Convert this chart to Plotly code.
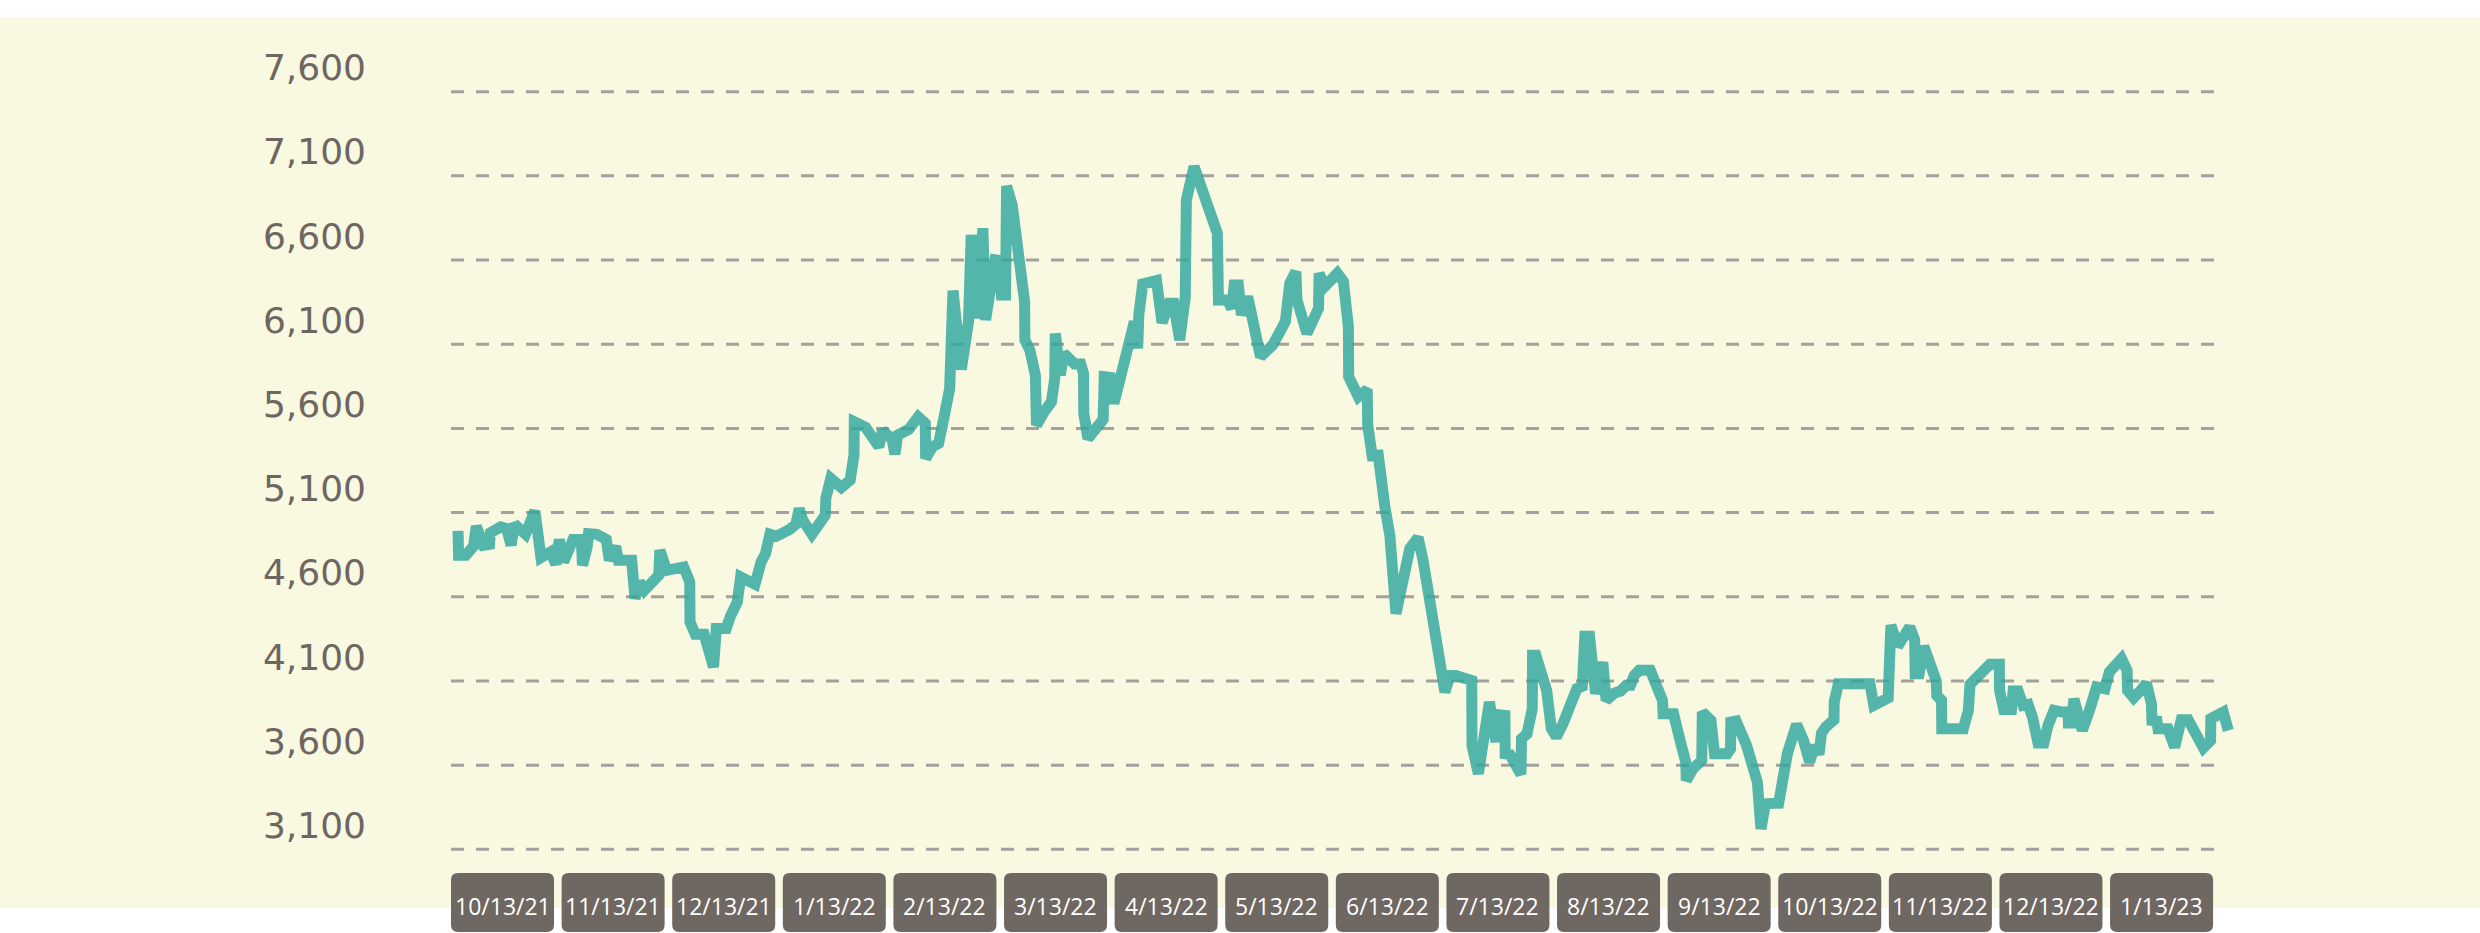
import plotly.graph_objects as go

# ---------------- data ----------------
# t: trading-day index (20 units per month band), price: value
t = [0.0, 0.1, 1.4, 2.8, 3.3, 4.6, 5.7, 5.85, 7.7, 8.8, 9.6, 10.2, 12.2, 13.9, 15.0, 16.7, 17.7, 18.3, 19.1, 20.8,
     22.3, 22.5, 23.35, 23.6, 25.1, 26.8, 27.35, 28.5, 29.0, 31.4, 32.0, 32.8, 33.7, 36.3, 36.5, 37.7, 40.8, 41.9, 41.95, 42.9,
     44.5, 46.2, 46.7, 48.5, 49.2, 50.5, 51.1, 52.9, 53.7, 54.8, 55.6, 56.4, 57.6, 60.0, 61.1, 61.7, 62.35, 64.0, 66.4, 66.5,
     67.4, 69.3, 70.9, 71.6, 71.65, 73.7, 76.1, 76.75, 78.5, 79.0, 79.5, 81.5, 83.2, 84.5, 84.55, 85.8, 86.9, 87.9,
     88.9, 89.5, 91.0, 92.3, 92.8, 93.9, 94.9, 95.4, 96.3, 97.1, 97.9, 98.25, 99.0, 99.2, 100.2, 101.2, 102.1, 102.45, 102.5,
     103.4, 104.4, 104.6, 106.0, 107.3, 107.9, 108.0, 108.9, 109.55, 111.5, 112.6, 113.1, 113.15, 113.9, 116.65, 116.85,
     117.95, 118.6, 120.2, 121.2, 121.8, 122.3, 122.9, 123.1, 123.8, 126.3, 127.3, 128.6, 129.4, 130.5, 131.5, 131.7, 133.1,
     137.3, 137.5, 139.1, 139.9, 140.35, 141.1, 141.65, 142.8, 145.1, 147.3, 149.6, 150.4, 151.5, 151.7, 153.5, 155.6, 155.7,
     156.7, 159.0, 160.1, 161.0, 161.05, 162.8, 164.4, 164.5, 165.3, 166.4,
     167.6, 168.5, 169.6, 170.3, 172.1, 173.6, 174.5,
     176.8, 178.45, 179.4, 180.4, 183.3, 183.35, 184.5, 186.5, 187.7, 187.8, 189.3, 189.35, 190.2, 192.2, 192.3, 193.3,
     194.25, 194.3, 194.9, 196.85, 197.7, 198.6, 199.8, 201.7, 202.3, 203.3, 203.75, 204.6, 205.7, 207.0, 207.6, 209.1,
     210.2, 211.25, 212.0, 212.7, 213.6, 215.6, 216.9, 217.8, 217.9, 219.8, 220.9, 222.0, 222.1, 223.3, 224.9, 225.0,
     226.55, 227.2, 229.5, 230.1, 230.15, 231.1, 233.0, 234.3, 234.95, 235.6, 236.4, 238.8, 239.7, 240.4, 242.05, 243.3,
     244.4, 245.3, 246.1, 246.55, 247.3, 248.8, 248.85, 249.6, 255.3, 256.0, 258.6, 258.65, 259.1, 260.1, 260.7, 262.5,
     263.4, 263.5, 264.2, 265.05, 267.3, 267.4, 268.25, 268.3, 272.2, 273.1, 273.4, 277.0, 278.7, 278.75, 279.5, 280.9,
     281.2, 282.1, 283.0, 283.9, 284.7, 285.7, 286.75, 287.5, 288.6, 290.1, 291.15, 291.2, 291.75, 292.2, 293.1, 293.7,
     295.1, 296.3, 297.8, 298.6, 300.8, 301.8, 301.9, 303.0, 304.4, 305.3, 306.2, 306.3, 307.2, 307.4, 309.2, 310.4,
     311.6, 312.85, 315.6, 316.9, 316.95, 319.2, 320.1]

price = [4991, 4847, 4847, 4900, 5019, 4906, 4912, 4980, 5015, 5005, 4906, 5031, 4972, 5110, 4833, 4866, 4793, 4940, 4807, 4940,
         4940, 4787, 4896, 4975, 4971, 4940, 4817, 4900, 4817, 4817, 4589, 4688, 4639, 4728, 4876, 4757, 4777, 4688, 4450, 4377,
         4377, 4183, 4411, 4411, 4480, 4569, 4718, 4688, 4674, 4807, 4857, 4972, 4960, 5000, 5031, 5124, 5055, 4972, 5085, 5184,
         5303, 5249, 5293, 5441, 5639, 5606, 5491, 5590, 5534, 5447, 5560, 5594, 5669, 5630, 5421, 5491, 5511, 5669,
         5837, 6418, 5950, 6234, 6749, 6254, 6789, 6244, 6398, 6601, 6597, 6392, 6392, 7040, 6927, 6696, 6521, 6353, 6125,
         6065, 5917, 5619, 5699, 5758, 5897, 6164, 5917, 6046, 5982, 5982, 5927, 5689, 5540, 5653, 5907,
         5903, 5748, 5976, 6046, 6204, 6234, 6075, 6273, 6458, 6478, 6228, 6343, 6343, 6125, 6379, 6957, 7155,
         6759, 6363, 6363, 6313, 6452, 6452, 6274, 6382, 6026, 6095, 6234, 6462, 6531, 6363, 6164, 6313, 6521,
         6442, 6521, 6472, 6204, 5907, 5788, 5832, 5619, 5438, 5441,
         5134, 4965, 4500, 4618, 4886, 4952, 4817,
         4361, 4034, 4133, 4133, 4103, 3717, 3549, 3975, 3737, 3901, 3895, 3667, 3663, 3545, 3757, 3786,
         3935, 4252, 4252, 4044, 3816, 3767, 3846, 4024, 4054, 4068, 4365, 4365, 4024, 4212, 3985, 4028,
         4040, 4074, 4074, 4133, 4163, 4163, 4074, 3985, 3905, 3905, 3757, 3618, 3509, 3578, 3628, 3915,
         3866, 3667, 3667, 3697, 3856, 3862, 3717, 3588, 3499, 3221, 3370, 3374, 3612, 3671, 3842, 3747,
         3618, 3717, 3664, 3790, 3826, 3870, 3975, 4084, 4084, 3955, 4000, 4193, 4431, 4331, 4325, 4421,
         4345, 4143, 4143, 4306, 4100, 4014, 3985, 3816, 3816, 3925, 4080, 4199, 4199, 4044, 3931, 3931,
         4040, 4040, 3955, 3961, 3885, 3731, 3731, 3836, 3925, 3915, 3915, 3850, 3850, 3994, 3885, 3806,
         3935, 4064, 4054, 4153, 4232, 4163, 4044, 4000, 4048, 4088, 3965, 3866, 3862, 3816, 3816, 3707,
         3870, 3870, 3703, 3747, 3876, 3915, 3806]

month_labels = ["10/13/21", "11/13/21", "12/13/21", "1/13/22", "2/13/22", "3/13/22", "4/13/22", "5/13/22",
                "6/13/22", "7/13/22", "8/13/22", "9/13/22", "10/13/22", "11/13/22", "12/13/22", "1/13/23"]
y_ticks = [3100, 3600, 4100, 4600, 5100, 5600, 6100, 6600, 7100, 7600]

# ---------------- layout constants ----------------
W, H = 2480, 933
ML, MR, MT, MB = 451, 244, 90, 82
PW, PH = W - ML - MR, H - MT - MB
X_RANGE = [-1.27, 321.5]
Y_RANGE = [3090, 7610]
T_PER_MONTH = 20.0

BEIGE = "#F9F8E1"
BOX = "#6F6761"
TEXT = "#6E6660"
LINE = "rgba(47,167,158,0.82)"
GRID = "#A3A19D"


def px_x(X):
    return (X - ML) / PW


def px_y(Y):
    return (H - MB - Y) / PH


def t_to_paper(tv):
    return (tv - X_RANGE[0]) / (X_RANGE[1] - X_RANGE[0])


fig = go.Figure()
fig.add_trace(go.Scatter(x=t, y=price, mode="lines",
                         line=dict(color=LINE, width=11),
                         hoverinfo="skip", showlegend=False))

shapes = []
# white strips above / below the beige panel
shapes.append(dict(type="rect", xref="paper", yref="paper", x0=px_x(0), x1=px_x(W),
                   y0=px_y(17), y1=px_y(0), fillcolor="white", line=dict(width=0), layer="below"))
shapes.append(dict(type="rect", xref="paper", yref="paper", x0=px_x(0), x1=px_x(W),
                   y0=px_y(H), y1=px_y(908), fillcolor="white", line=dict(width=0), layer="below"))
# dashed grid lines
grid_x1 = px_x(2223)
for v in y_ticks:
    shapes.append(dict(type="line", xref="paper", yref="y", x0=0, x1=grid_x1, y0=v, y1=v,
                       line=dict(color=GRID, width=3, dash="13px,12px"), layer="below"))

# month label boxes (rounded)
box_w_t = 103 / (PW / (X_RANGE[1] - X_RANGE[0]))
yt, yb = px_y(873), px_y(932)
rx = 7 / PW
ry = 7 / PH
annotations = []
for k, lab in enumerate(month_labels):
    x0 = t_to_paper(X_RANGE[0] + k * T_PER_MONTH)
    x1 = t_to_paper(X_RANGE[0] + k * T_PER_MONTH + box_w_t)
    path = (f"M {x0+rx},{yt} L {x1-rx},{yt} Q {x1},{yt} {x1},{yt-ry} "
            f"L {x1},{yb+ry} Q {x1},{yb} {x1-rx},{yb} L {x0+rx},{yb} "
            f"Q {x0},{yb} {x0},{yb+ry} L {x0},{yt-ry} Q {x0},{yt} {x0+rx},{yt} Z")
    shapes.append(dict(type="path", xref="paper", yref="paper", path=path,
                       fillcolor=BOX, line=dict(width=0), layer="above"))
    annotations.append(dict(x=(x0 + x1) / 2, y=px_y(906), xref="paper", yref="paper",
                            text=lab, showarrow=False, xanchor="center", yanchor="middle",
                            font=dict(family="Open Sans", size=23, color="white")))

fig.update_layout(
    width=W, height=H,
    margin=dict(l=ML, r=MR, t=MT, b=MB, pad=0),
    paper_bgcolor=BEIGE, plot_bgcolor="rgba(0,0,0,0)",
    shapes=shapes, annotations=annotations,
    xaxis=dict(range=X_RANGE, showgrid=False, zeroline=False, showticklabels=False,
               showline=False, ticks=""),
    yaxis=dict(range=Y_RANGE, showgrid=False, zeroline=False, showline=False, ticks="",
               tickvals=y_ticks, tickformat=",d",
               tickfont=dict(family="DejaVu Sans", size=36, color=TEXT),
               ticklabelshift=-24, ticklabelstandoff=84),
    showlegend=False,
)

fig.write_html("out.html", config={"displayModeBar": False},
               post_script="document.body.style.margin='0px';document.body.style.overflow='hidden';")
